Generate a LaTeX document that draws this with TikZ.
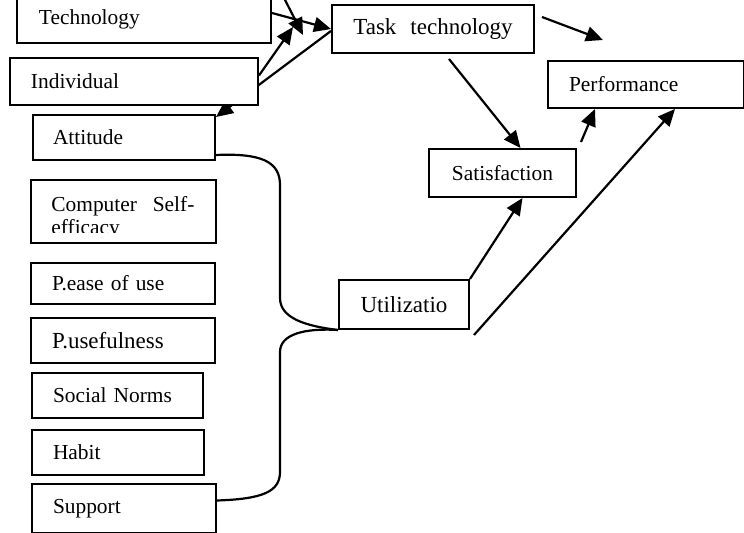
\documentclass[tikz,border=0pt]{standalone}
\usepackage{fontspec}
\setmainfont{Liberation Serif}
\usetikzlibrary{calc,arrows.meta,backgrounds}

\begin{document}
\begin{tikzpicture}[x=0.5pt, y=-0.5pt, >={Triangle[length=8.5pt,width=7.5pt]},
  box/.style={draw, line width=1pt, fill=white, anchor=north west, align=left, inner ysep=0pt},
  small/.style={font=\fontsize{10.7}{12.8}\selectfont},
  large/.style={font=\fontsize{11.5}{13.8}\selectfont},
  link/.style={->, line width=1.1pt}]
  \useasboundingbox (0,0) rectangle (744,533);
  \node[box, small, minimum width=127pt, minimum height=24pt, inner xsep=11pt, text width=105pt] (tech) at (16,-6) {Technology};
  \node[box, small, minimum width=124pt, minimum height=23.5pt, inner xsep=10.5pt, text width=103pt] (indiv) at (9,57) {Individual};
  \node[box, small, minimum width=91pt, minimum height=22.5pt, inner xsep=10pt, text width=71pt] (att) at (32,114) {Attitude};
  \node[box, minimum width=92.5pt, minimum height=31.5pt] (cse) at (30,179) {};
  \begin{scope}
    \clip (cse.north west) rectangle ($(cse.south east)+(0,-11)$);
    \node[anchor=north west, inner sep=0pt, text width=71.5pt, align=left, font=\fontsize{10.7}{11.5}\selectfont] (csetext) at ($(cse.north west)+(21,17)$) {Computer\hfill Self-\\efficacy};
  \end{scope}
  \node[box, small, minimum width=92pt, minimum height=20.5pt, inner xsep=10.5pt, text width=71pt] (pease) at (30,262) {P.ease of use};
  \node[box, large, minimum width=92pt, minimum height=22.5pt, inner xsep=10.5pt, text width=71pt] (puse) at (30,317) {P.usefulness};
  \node[box, small, minimum width=85.5pt, minimum height=22.5pt, inner xsep=10.5pt, text width=64.5pt] (social) at (31,372) {Social Norms};
  \node[box, small, minimum width=86pt, minimum height=22.5pt, inner xsep=10.5pt, text width=65pt] (habit) at (31,429) {Habit};
  \node[box, small, minimum width=92pt, minimum height=24.5pt, inner xsep=10.5pt, text width=71pt] (support) at (31,483) {Support};
  \node[box, large, minimum width=65pt, minimum height=24.5pt, align=center] (util) at (338,279) {Utilizatio};
  \node[box, small, minimum width=73.5pt, minimum height=24pt, align=center] (sat) at (428,148) {Satisfaction};
  \node[box, large, minimum width=101pt, minimum height=24pt, align=center] (task) at (331,4) {Task\hspace{7pt}technology};
  \node[box, small, minimum width=98pt, minimum height=23.5pt, inner xsep=10.5pt, text width=77pt] (perf) at (547,60) {Performance};
  \coordinate (topin) at (284,-2);
  \coordinate (topend) at (303,35);
  \coordinate (indend) at (293,27);
  \coordinate (taskend) at (603,40);
  \draw[link] ($(tech.east)+(0,-6)$) -- (task.west);
  \draw[link] (topin) -- (topend);
  \draw[link] ($(indiv.east)+(0,-6)$) -- (indend);
  \begin{scope}[on background layer]
    \draw[link] ($(task.west)+(0,2)$) -- ($(att.north east)+(0,3)$);
  \end{scope}
  \draw[link] ($(task.north east)+(7,13)$) -- (taskend);
  \draw[link] ($(task.south)+(16,5)$) -- ($(sat.north)+(18,0)$);
  \draw[link] ($(sat.north east)+(4,-6)$) -- ($(perf.south west)+(48,0)$);
  \draw[link] (util.north east) -- ($(sat.south)+(20,0)$);
  \draw[link] ($(util.south east)+(4,5)$) -- ($(perf.south west)+(128,0)$);
  \draw[line width=1.1pt] ($(att.south east)+(0,-6)$) .. controls (262,153) and (280,162) .. (280,185) -- (280,298) .. controls (280,318) and (305,326) .. (util.south west);
  \draw[line width=1.1pt] ($(support.east)+(0,-8)$) .. controls (262,499) and (280,492) .. (280,472) -- (280,352) .. controls (280,334) and (305,328) .. (util.south west);
\end{tikzpicture}
\end{document}
